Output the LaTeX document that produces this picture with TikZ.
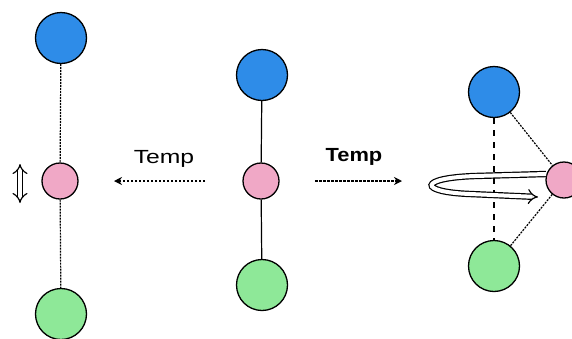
\documentclass[tikz,border=0pt]{standalone}
\usetikzlibrary{arrows.meta}
\usepackage{fontspec}
\setmainfont{Liberation Sans}
\definecolor{ballblue}{RGB}{46,140,232}
\definecolor{ballpink}{RGB}{240,168,198}
\definecolor{ballgreen}{RGB}{142,232,152}
\begin{document}
\begin{tikzpicture}[x=1pt,y=-1pt,
  big/.style={circle,draw=black,line width=1.3pt,minimum size=51pt,inner sep=0pt},
  small/.style={circle,draw=black,line width=1.3pt,minimum size=36pt,inner sep=0pt},
  jag/.style={line width=1.2pt,dash pattern=on 2pt off 1pt},
  bond/.style={line width=1.2pt},
  dotbond/.style={line width=1.2pt,dash pattern=on 2pt off 1.2pt},
  vdash/.style={line width=1.2pt,dash pattern=on 6pt off 6pt},
  temparrow/.style={line width=1.3pt,dash pattern=on 2.5pt off 1.5pt,-{Stealth[length=8pt,width=8pt]}},
  ribbon/.style={double,double distance=4pt,line width=1.2pt},
  lbl/.style={font=\fontsize{19}{21}\selectfont,inner sep=0pt}]
\useasboundingbox (0,0) rectangle (572,338);
\fill[white] (0,0) rectangle (572,338);
% left column
\node[big,fill=ballblue] (lb) at (61,38) {};
\node[small,fill=ballpink] (lp) at (60,181) {};
\node[big,fill=ballgreen] (lg) at (61,314) {};
\draw[jag] (lb) -- (lp);
\draw[jag] (lp) -- (lg);
\coordinate (da) at (20,164);
\coordinate (db) at (20,203);
\draw[ribbon,{Implies}-{Implies}] (da) -- (db);
% middle column
\node[big,fill=ballblue] (mb) at (262,75) {};
\node[small,fill=ballpink] (mp) at (261,181) {};
\node[big,fill=ballgreen] (mg) at (262,285) {};
\draw[bond] (mb) -- (mp);
\draw[bond] (mp) -- (mg);
% arrows
\coordinate (la1) at (205,181);
\coordinate (la2) at (114,181);
\draw[temparrow] (la1) -- (la2);
\node[lbl] (lt) at (164,159) {\scalebox{1.3}[1]{Temp}};
\coordinate (ra1) at (315,181);
\coordinate (ra2) at (402,181);
\draw[temparrow] (ra1) -- (ra2);
\node[lbl,font=\fontsize{19}{21}\selectfont\bfseries] (rt) at (354,157) {\scalebox{1.15}[1]{Temp}};
% right group
\node[big,fill=ballblue] (rb) at (494,92) {};
\node[small,fill=ballpink] (rp) at (564,180) {};
\node[big,fill=ballgreen] (rg) at (494,266) {};
\draw[vdash] (rb) -- (rg);
\draw[dotbond] (rb) -- (rp);
\draw[dotbond] (rp) -- (rg);
\coordinate (r1) at (546,174);
\coordinate (r2) at (475,176);
\coordinate (r3) at (470,194);
\coordinate (r4) at (538,197);
\draw[ribbon,-{Implies}] (r1) -- (r2) .. controls (418,178) and (418,192) .. (r3) -- (r4);
\end{tikzpicture}
\end{document}
